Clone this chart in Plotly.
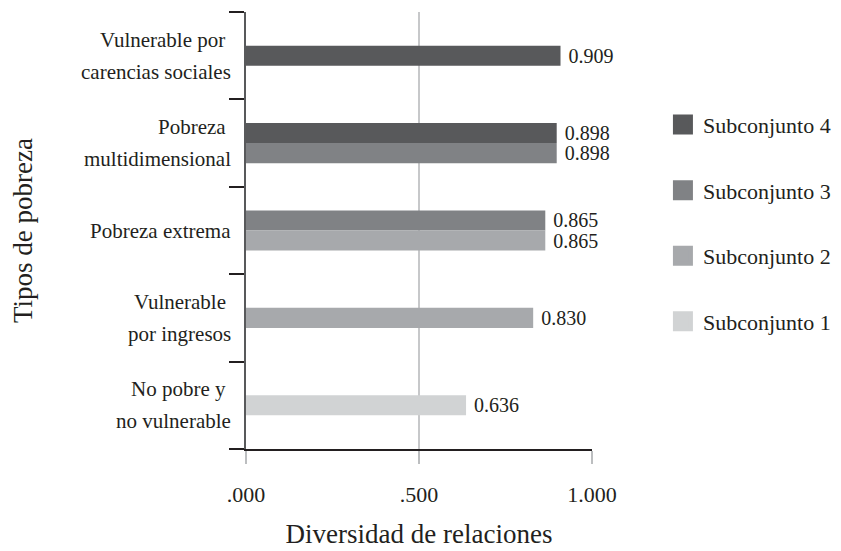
import plotly.graph_objects as go

# ---- data ----
categories = [
    "Vulnerable por carencias sociales",
    "Pobreza multidimensional",
    "Pobreza extrema",
    "Vulnerable por ingresos",
    "No pobre y no vulnerable",
]
category_lines = {
    "Vulnerable por carencias sociales": ["Vulnerable por\u00a0", "carencias sociales"],
    "Pobreza multidimensional": ["Pobreza\u00a0", "multidimensional"],
    "Pobreza extrema": ["Pobreza extrema"],
    "Vulnerable por ingresos": ["Vulnerable\u00a0", "por ingresos"],
    "No pobre y no vulnerable": ["No pobre y\u00a0", "no vulnerable"],
}
series_names = ["Subconjunto 4", "Subconjunto 3", "Subconjunto 2", "Subconjunto 1"]
s4_cats = ["Vulnerable por carencias sociales", "Pobreza multidimensional"]
s4_vals = [0.909, 0.898]
s3_cats = ["Pobreza multidimensional", "Pobreza extrema"]
s3_vals = [0.898, 0.865]
s2_cats = ["Pobreza extrema", "Vulnerable por ingresos"]
s2_vals = [0.865, 0.830]
s1_cats = ["No pobre y no vulnerable"]
s1_vals = [0.636]
x_tickvals = [0, 0.5, 1.0]
x_ticktext = [".000", ".500", "1.000"]

colors = ["#58595b", "#808285", "#a7a9ac", "#d1d3d4"]
series = [(s4_cats, s4_vals), (s3_cats, s3_vals), (s2_cats, s2_vals), (s1_cats, s1_vals)]

FONT = "Liberation Serif, DejaVu Serif, serif"
TXT = "#231f20"
BAR_W = 0.23

# bars present per category (top to bottom order S4..S1)
present = {c: [i for i, (cs, _) in enumerate(series) if c in cs] for c in categories}

fig = go.Figure()
for i, (cs, vs) in enumerate(series):
    offsets = []
    for c in cs:
        n = len(present[c])
        k = present[c].index(i)
        offsets.append(n * BAR_W / 2 - (k + 1) * BAR_W)
    fig.add_trace(go.Bar(
        y=cs, x=vs, orientation="h", name=series_names[i],
        marker=dict(color=colors[i], line=dict(width=0)),
        width=[BAR_W] * len(cs), offset=offsets,
        text=["\u00a0" + f"{v:.3f}" for v in vs], textposition="outside",
        textfont=dict(family=FONT, size=20, color=TXT),
        constraintext="none", cliponaxis=False, showlegend=False,
    ))

for i, name in enumerate(series_names):
    fig.add_trace(go.Scatter(
        x=[None], y=[None], mode="markers", name=name, legendgroup=name,
        marker=dict(symbol="square", size=16, color=colors[i],
                    line=dict(width=4, color=colors[i])),
    ))

# category labels as text beside the axis
for c in categories:
    lines = category_lines[c]
    n = len(lines)
    for j, t in enumerate(lines):
        fig.add_annotation(
            xref="paper", yref="y", x=0, y=c, text=t, showarrow=False,
            xanchor="right", yanchor="middle", xshift=-13,
            yshift=(n - 1) * 16 - j * 32,
            font=dict(family=FONT, size=21, color=TXT),
        )

fig.update_layout(
    width=841, height=551,
    margin=dict(l=238, r=257, t=4, b=110, autoexpand=False),
    plot_bgcolor="white", paper_bgcolor="white",
    barmode="overlay",
    font=dict(family=FONT, color=TXT),
    legend=dict(x=1.205, y=0.79, xanchor="left", yanchor="top",
                font=dict(family=FONT, size=22, color=TXT),
                tracegroupgap=34, bgcolor="rgba(0,0,0,0)"),
)
fig.update_xaxes(
    range=[0, 1.0], tickvals=x_tickvals, ticktext=x_ticktext,
    showgrid=True, gridcolor="#c7c8ca", gridwidth=1.5, zeroline=False,
    showline=True, linecolor=TXT, linewidth=2, automargin=False,
    ticks="outside", ticklen=13, tickcolor="#bcbec0", tickwidth=1.5,
    ticklabelstandoff=12,
    tickfont=dict(family=FONT, size=22, color=TXT),
    title=dict(text="Diversidad de relaciones", font=dict(family=FONT, size=27, color=TXT), standoff=18),
)
fig.update_yaxes(
    type="category", categoryorder="array", categoryarray=categories[::-1],
    tickson="boundaries", ticks="outside", ticklen=15, tickcolor=TXT, tickwidth=2,
    showticklabels=False, showgrid=False, zeroline=False, automargin=False,
    showline=True, linecolor="#58595b", linewidth=2,
    title=dict(text="Tipos de pobreza", font=dict(family=FONT, size=27, color=TXT), standoff=207),
)

fig.write_html("out.html")
